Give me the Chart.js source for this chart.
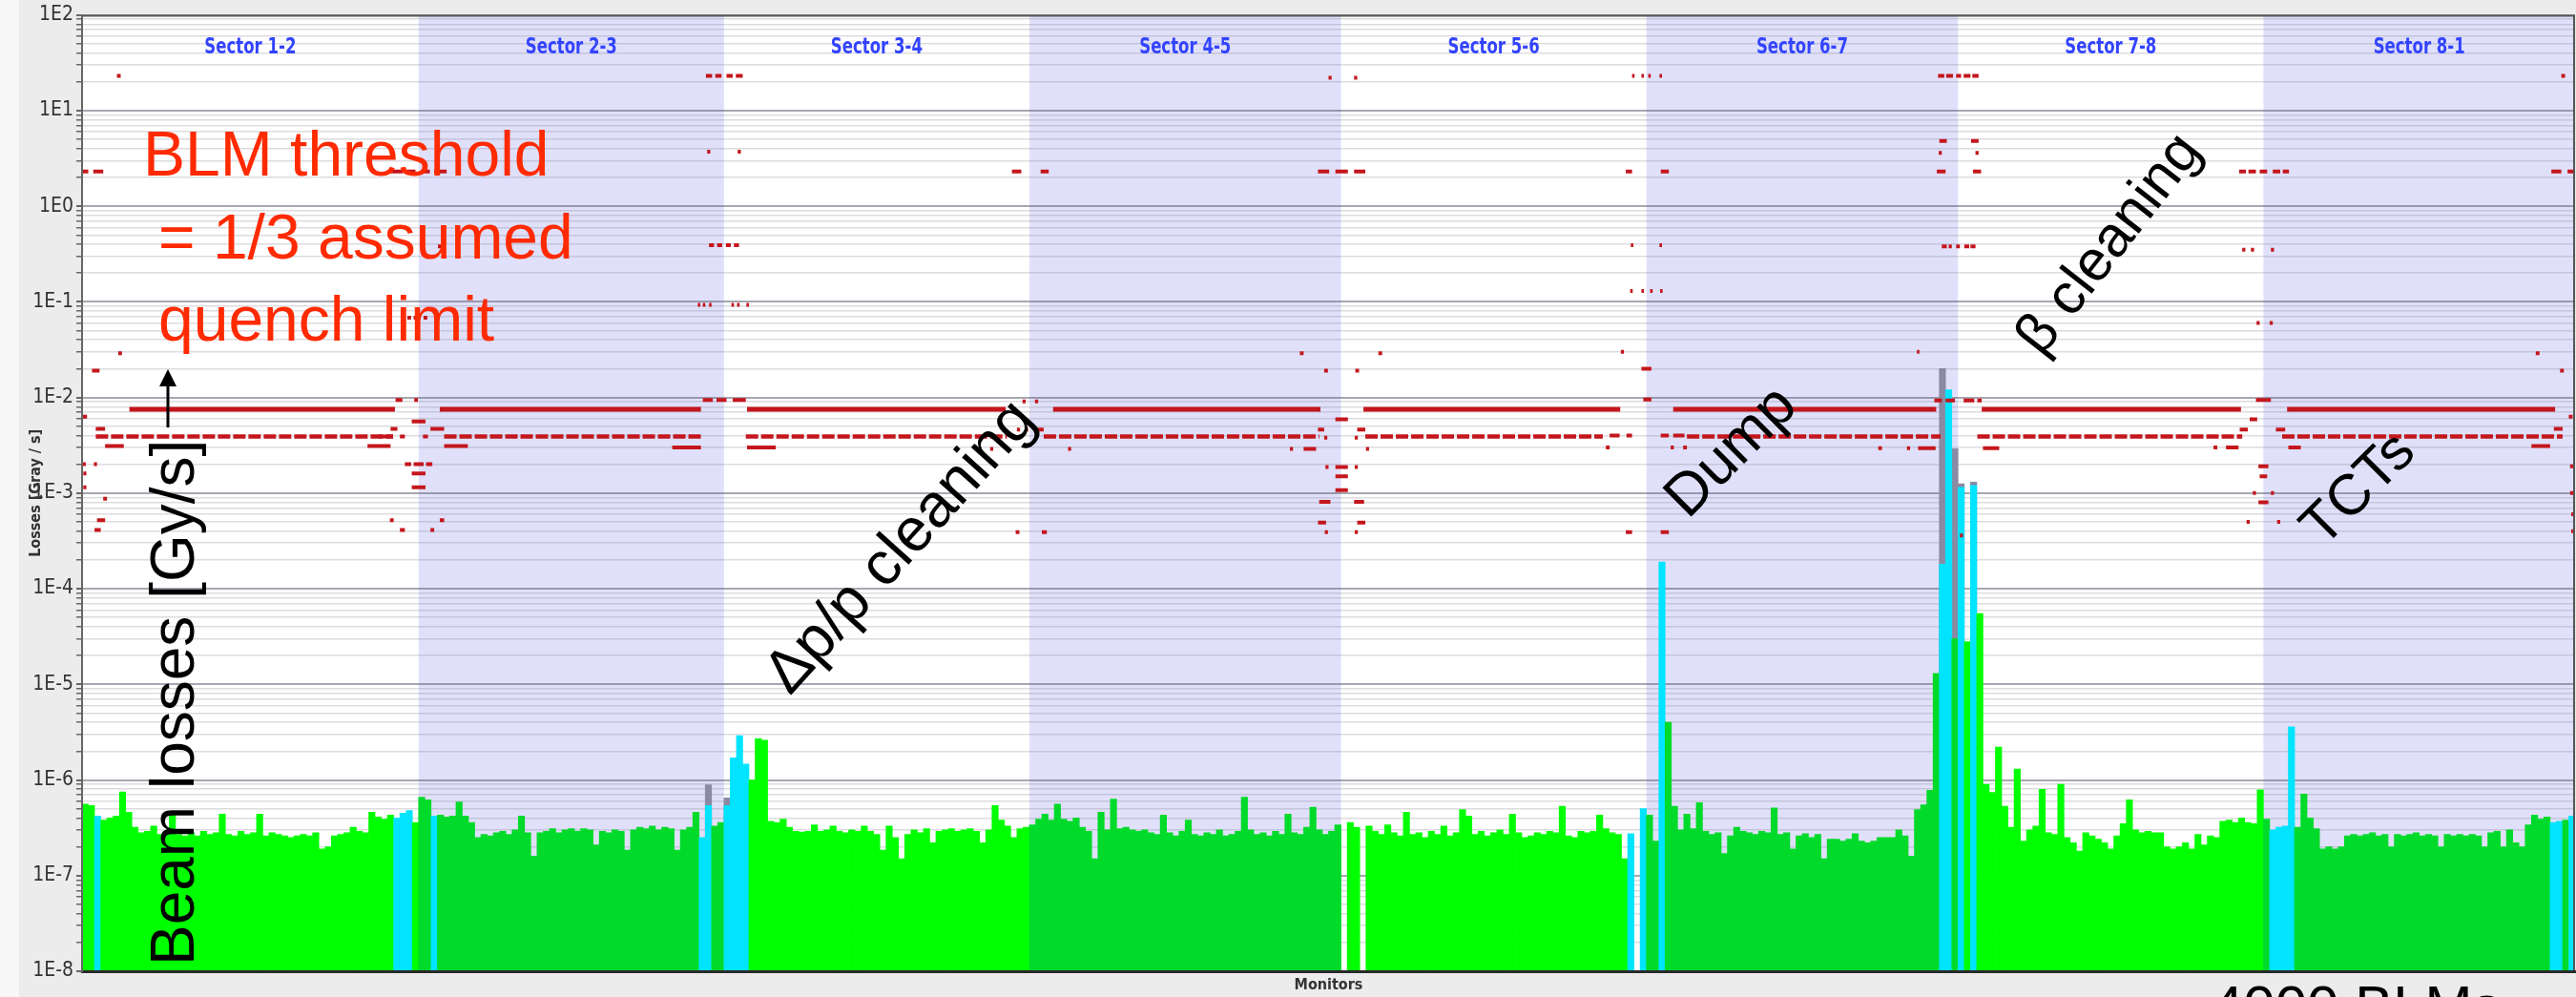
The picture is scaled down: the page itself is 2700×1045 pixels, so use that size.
<!DOCTYPE html>
<html lang="en">
<head>
<meta charset="utf-8">
<title>LHC beam loss map</title>
<script src="https://cdn.jsdelivr.net/npm/chart.js@4.4.1/dist/chart.umd.min.js"></script>
<style>
  html, body { margin: 0; padding: 0; background: #ececec; overflow: hidden; }
  #lossmap { display: block; }
</style>
</head>
<body>
<canvas id="lossmap" width="2700" height="1045"></canvas>
<script>
// ---- Ring layout -------------------------------------------------------
const sectorNames = ['Sector 1-2', 'Sector 2-3', 'Sector 3-4', 'Sector 4-5',
                     'Sector 5-6', 'Sector 6-7', 'Sector 7-8', 'Sector 8-1'];
// monitor index of IP1 ... IP8 and back to IP1
const sectorEdges = [0, 540, 1030, 1520, 2020, 2510, 3010, 3500, 4000];
const MONITORS_PER_BAR = 10;
const LOSS_UNIT = 1e-7;            // loss arrays are given in 1E-7 Gy/s

// y-axis decade labels
const decadeLabels = ['1E2', '1E1', '1E0', '1E-1', '1E-2', '1E-3', '1E-4', '1E-5', '1E-6', '1E-7', '1E-8'];

// ---- Measured losses per bar (10 monitors each), 1E-7 Gy/s ------------
const loss12 = [5.6, 5.4, 4.2, 3.8, 4.0, 4.2, 7.5, 4.6, 3.2, 2.8,
                2.9, 3.3, 2.7, 2.9, 4.5, 2.7, 2.6, 2.8, 2.6, 2.9,
                2.7, 2.8, 4.4, 2.7, 2.6, 2.9, 2.7, 2.8, 4.4, 2.6,
                2.8, 2.7, 2.6, 2.5, 2.6, 2.7, 2.6, 2.8, 1.9, 2.0,
                2.6, 2.7, 2.8, 3.2, 2.9, 2.8, 4.6, 4.1, 3.9, 4.3,
                4.0, 4.5, 4.8, 3.6];
const loss23 = [6.6, 6.2, 4.2, 4.3, 4.1, 4.2, 5.9, 4.2, 3.6, 2.5,
                2.7, 2.6, 2.8, 2.9, 2.7, 3.0, 4.2, 2.8, 1.6, 2.8,
                2.9, 3.1, 2.8, 3.0, 3.1, 2.9, 3.1, 3.0, 2.1, 2.9,
                2.8, 3.0, 2.9, 1.85, 3.0, 3.2, 3.1, 3.3, 3.0, 3.2,
                3.1, 1.85, 3.0, 3.2, 4.6, 2.5, 5.4, 3.3, 3.6];
const loss34 = [5.4, 17, 29, 14.7, 10, 27, 26, 3.7, 3.6, 3.9,
                3.2, 2.9, 2.85, 2.9, 3.4, 2.9, 3.0, 3.3, 2.9, 2.8,
                3.0, 2.9, 3.3, 2.9, 2.7, 1.85, 3.3, 2.5, 1.5, 2.7,
                3.0, 2.8, 3.1, 2.2, 2.9, 3.0, 3.1, 2.9, 3.0, 3.1,
                2.9, 2.2, 3.0, 5.4, 3.8, 3.3, 2.5, 3.1, 3.2];
const loss45 = [3.4, 3.9, 4.4, 3.8, 5.6, 3.9, 3.7, 4.0, 3.2, 2.9,
                1.5, 4.6, 3.0, 6.3, 3.1, 3.2, 3.0, 2.9, 3.0, 2.8,
                2.7, 4.3, 2.8, 2.6, 2.9, 3.8, 2.7, 2.6, 2.8, 2.7,
                3.0, 2.6, 2.7, 2.9, 6.6, 3.0, 2.7, 2.8, 2.6, 2.9,
                2.7, 4.4, 2.8, 2.7, 3.2, 5.2, 3.0, 2.7, 2.9, 3.4];
const loss56 = [null, 3.6, 3.2, null, 3.3, 2.9, 2.7, 3.4, 2.8, 2.6,
                4.6, 2.7, 2.8, 2.5, 2.9, 2.7, 3.3, 2.6, 2.8, 4.9,
                4.2, 2.7, 2.9, 2.6, 2.8, 3.0, 2.7, 4.4, 2.8, 2.5,
                2.6, 2.8, 2.7, 2.9, 2.8, 5.3, 2.6, 2.5, 2.9, 2.8,
                2.9, 4.3, 3.1, 2.8, 2.7, 1.5, 2.75, null, 5.0];
const loss67 = [4.3, 2.3, 1900, 40, 5.3, 3.0, 4.4, 3.1, 5.8, 2.9,
                2.7, 2.8, 1.7, 2.6, 3.2, 2.9, 2.8, 2.7, 2.9, 2.8,
                5.1, 2.7, 2.8, 1.9, 2.6, 2.75, 2.5, 2.7, 1.5, 2.4,
                2.4, 2.3, 2.4, 2.75, 2.3, 2.2, 2.3, 2.5, 2.5, 2.5,
                3.0, 2.6, 1.6, 4.9, 5.5, 7.8, 130, 1800, 120000, 300];
const loss78 = [11500, 280, 12000, 550, 9.0, 7.4, 22, 5.3, 3.2, 13,
                2.3, 3.0, 3.3, 8.0, 2.8, 2.7, 9.0, 2.5, 2.2, 1.8,
                2.8, 2.6, 2.4, 2.2, 1.9, 2.6, 3.5, 6.2, 3.0, 2.8,
                2.9, 2.8, 2.8, 2.0, 1.9, 2.0, 2.2, 1.9, 2.7, 2.1,
                2.6, 2.5, 3.7, 3.8, 3.6, 4.0, 3.6, 3.5, 7.9];
const loss81 = [3.9, 3.0, 3.2, 3.3, 36, 3.2, 7.1, 4.0, 3.1, 1.9,
                2.0, 1.9, 2.0, 2.6, 2.7, 2.6, 2.7, 2.8, 2.6, 2.7,
                2.0, 2.7, 2.6, 2.7, 2.8, 2.6, 2.7, 2.6, 2.0, 2.7,
                2.6, 2.7, 2.6, 2.7, 2.6, 2.0, 2.8, 2.9, 2.0, 3.0,
                2.2, 2.0, 3.4, 4.3, 3.9, 4.1, 3.6, 3.7, 3.8, 4.2];

// bars coming from collimation-area / IR monitors (drawn cyan)
const cyanBars = [2, 50, 51, 52, 56, 99, 100, 103, 104, 105, 106, 248, 250, 253,
                  298, 299, 301, 303, 351, 352, 353, 354, 396, 397, 399];
// second reading behind the main bars: [bar index, loss in 1E-7 Gy/s]
const otherBeamLoss = [[100, 8.9], [103, 6.5], [298, 200000], [300, 29000], [301, 12500], [303, 13000]];

// ---- BLM thresholds -----------------------------------------------------
// arc thresholds: [first monitor, last monitor, Gy/s]
const arcThreshold = [[76, 502, 7.5e-3], [574, 993, 7.5e-3], [1067, 1482, 7.5e-3], [1558, 1987, 7.5e-3],
                      [2056, 2468, 7.5e-3], [2553, 2975, 7.5e-3], [3048, 3464, 7.5e-3], [3538, 3968, 7.5e-3]];
const arcThresholdQuad = [[22, 499, 3.9e-3], [581, 993, 3.9e-3], [1065, 1484, 3.9e-3], [1543, 1985, 3.9e-3],
                          [2059, 2440, 3.9e-3], [2575, 2982, 3.9e-3], [3041, 3466, 3.9e-3], [3530, 3980, 3.9e-3]];
// insertion thresholds: [offset from IP, offset end, Gy/s]
const ipPositions = [0, 540, 1030, 1520, 2020, 2510, 3010, 3500];
const ip1Thresholds = [[56, 62, 23], [-22, -16, 23], [0, 10, 2.3], [18, 34, 2.3], [-38, -22, 2.3], [-12, 0, 2.3],
  [58, 64, 0.029], [-63, -57, 0.029], [16, 28, 0.019], [-24, -18, 0.019], [0, 8, 6.3e-3], [-10, -4, 6.3e-3],
  [22, 37, 4.7e-3], [-34, -20, 4.7e-3], [37, 67, 3.1e-3], [-70, -40, 3.1e-3], [1, 6, 2.0e-3], [19, 24, 2.0e-3],
  [-8, -2, 1.9e-3], [2, 7, 1.6e-3], [2, 7, 1.15e-3], [-8, -2, 1.0e-3], [34, 40, 8.7e-4], [24, 37, 5.2e-4],
  [-6, 0, 6.0e-4], [20, 30, 4.1e-4], [-6, 0, 4.0e-4]];
const ip2Thresholds = [[-45, -25, 2.3], [-18, -5, 2.3], [5, 18, 2.3], [25, 45, 2.3], [-18, -12, 0.38], [31, 37, 0.38],
  [-18, -12, 0.068], [-8, -2, 0.068], [8, 14, 0.068], [-37, -26, 9.4e-3], [-7, -1, 9.4e-3], [-11, 11, 5.6e-3],
  [-45, -34, 4.7e-3], [19, 41, 4.7e-3], [-64, -41, 3.9e-3], [-30, -22, 3.9e-3], [7, 15, 3.9e-3],
  [-82, -45, 3.1e-3], [41, 79, 3.1e-3], [-22, -12, 2.0e-3], [-8, 8, 2.0e-3], [12, 22, 2.0e-3],
  [-11, 11, 1.6e-3], [-11, 11, 1.15e-3], [-46, -40, 5.2e-4], [34, 41, 5.2e-4], [-30, -22, 4.1e-4], [19, 25, 4.1e-4]];
const ip3Thresholds = [[-29, -19, 23], [-14, -4, 23], [4, 14, 23], [19, 30, 23], [-27, -22, 3.7], [22, 27, 3.7],
  [-24, -16, 0.39], [-11, -3, 0.39], [3, 11, 0.39], [16, 24, 0.39],
  [-42, -38, 0.093], [-34, -30, 0.093], [-24, -20, 0.093], [12, 16, 0.093], [21, 25, 0.093], [36, 40, 0.093],
  [-34, -18, 9.4e-3], [-12, 4, 9.4e-3], [14, 35, 9.4e-3], [-83, -37, 3.0e-3], [37, 83, 3.0e-3]];
const ip4Thresholds = [[-28, -13, 2.3], [18, 31, 2.3], [-11, -6, 9.1e-3], [9, 14, 9.1e-3],
  [-20, -15, 4.6e-3], [-7, -2, 4.6e-3], [8, 23, 4.6e-3], [-63, -58, 2.9e-3], [62, 67, 2.9e-3],
  [-22, -16, 3.9e-4], [20, 28, 3.9e-4]];
const ip5Thresholds = [[-20, -15, 22], [21, 26, 22], [-37, -19, 2.3], [-9, 11, 2.3], [21, 39, 2.3],
  [-66, -60, 0.029], [60, 66, 0.029], [-27, -21, 0.019], [23, 29, 0.019], [-9, 11, 5.9e-3],
  [-37, -27, 4.6e-3], [26, 39, 4.6e-3], [-27, -22, 3.8e-3], [22, 27, 3.8e-3],
  [-82, -77, 2.9e-3], [-60, -40, 2.9e-3], [40, 45, 2.9e-3], [-25, -20, 1.87e-3], [-9, 11, 1.87e-3], [22, 27, 1.87e-3],
  [-9, 11, 1.5e-3], [-9, 11, 1.07e-3], [-35, -17, 8.1e-4], [21, 37, 8.1e-4], [-37, -24, 4.9e-4], [26, 39, 4.9e-4],
  [-26, -21, 3.9e-4], [22, 27, 3.9e-4]];
const ip6Thresholds = [[-23, -19, 23], [-8, -4, 23], [3, 7, 23], [21, 25, 23], [-33, -23, 2.3], [23, 36, 2.3],
  [-25, -21, 0.39], [21, 25, 0.39], [-26, -22, 0.13], [-8, -4, 0.13], [6, 10, 0.13], [22, 26, 0.13],
  [-41, -36, 0.030], [-8, 8, 0.020], [-5, 8, 9.5e-3], [-59, -43, 4.0e-3], [-32, -23, 4.0e-3], [23, 36, 4.0e-3],
  [43, 61, 4.0e-3], [-65, -59, 3.0e-3], [39, 44, 3.0e-3], [59, 65, 3.0e-3], [-33, -23, 3.9e-4], [23, 36, 3.9e-4]];
const ip7Thresholds = [[-32, -22, 23], [-19, -8, 23], [-3, 5, 23], [9, 20, 23], [23, 33, 23],
  [-30, -18, 4.8], [21, 33, 4.8], [-31, -26, 3.6], [28, 33, 3.6], [-34, -20, 2.3], [24, 37, 2.3],
  [-26, -18, 0.38], [-15, -10, 0.38], [-3, 3, 0.38], [10, 18, 0.38], [20, 28, 0.38], [-66, -62, 0.030],
  [-38, -26, 9.3e-3], [-20, -5, 9.3e-3], [9, 26, 9.3e-3], [31, 38, 9.3e-3],
  [-128, -122, 2.95e-3], [-82, -77, 2.95e-3], [-64, -36, 2.95e-3], [40, 66, 2.95e-3], [3, 8, 3.6e-4]];
const ip8Thresholds = [[-39, -28, 2.3], [-24, -12, 2.3], [-6, 6, 2.3], [15, 27, 2.3], [31, 41, 2.3],
  [-34, -29, 0.35], [-20, -15, 0.35], [12, 17, 0.35], [-11, -6, 0.06], [10, 15, 0.06],
  [-12, 12, 9.4e-3], [-22, -10, 5.9e-3], [-38, -25, 4.6e-3], [20, 35, 4.6e-3],
  [-80, -74, 3.0e-3], [-60, -40, 3.0e-3], [40, 60, 3.0e-3], [-8, 8, 1.9e-3], [-6, 6, 1.5e-3],
  [-17, -12, 1.0e-3], [12, 17, 1.0e-3], [-8, 8, 8e-4], [-27, -22, 5e-4], [22, 27, 5e-4]];

// ---- Styling -----------------------------------------------------------
const COLORS = {
  page: '#ececec', plot: '#ffffff', shade: '#e0e0fa',
  green: '#00ff00', greenShaded: '#00da2a', cyan: '#00e4ff', otherBeam: '#8a8aa3',
  threshold: '#c4161c', sector: '#3344ff', note: '#ff2a00', ink: '#000000', axis: '#333333'
};
const NARROW = '"DejaVu Sans Condensed", "Liberation Sans Narrow", "DejaVu Sans", sans-serif';
const SANS = '"Liberation Sans", Arial, Helvetica, sans-serif';

// ---- Build datasets from the arrays -----------------------------------
const RING = sectorEdges[sectorEdges.length - 1];
const lossValues = [loss12, loss23, loss34, loss45, loss56, loss67, loss78, loss81].flat();
const cyanSet = new Set(cyanBars);
const barCenter = i => i * MONITORS_PER_BAR + MONITORS_PER_BAR / 2;

function sectorIndexOf(monitor) {
  for (let k = 0; k < sectorNames.length; k++) {
    if (monitor < sectorEdges[k + 1]) return k;
  }
  return sectorNames.length - 1;
}

const lossPoints = [];
const lossColors = [];
lossValues.forEach((v, i) => {
  if (v === null) return;
  const x = barCenter(i);
  lossPoints.push({ x, y: v * LOSS_UNIT });
  lossColors.push(cyanSet.has(i) ? COLORS.cyan
                  : (sectorIndexOf(x) % 2 ? COLORS.greenShaded : COLORS.green));
});
const otherBeamPoints = otherBeamLoss.map(([i, v]) => ({ x: barCenter(i), y: v * LOSS_UNIT }));

function thresholdPoints(list, origin) {
  const pts = [];
  list.forEach(([a, b, v]) => {
    let x0 = origin + a, x1 = origin + b;
    if (x0 < 0) { x0 += RING; x1 += RING; }
    pts.push({ x: x0, y: v }, { x: x1, y: v }, { x: x1, y: null });
  });
  return pts;
}
const ipThresholdPoints = [ip1Thresholds, ip2Thresholds, ip3Thresholds, ip4Thresholds,
                           ip5Thresholds, ip6Thresholds, ip7Thresholds, ip8Thresholds]
  .flatMap((list, k) => thresholdPoints(list, ipPositions[k]));

const decadeOf = new Map(decadeLabels.map(l => [Math.round(Math.log10(Number(l))), l]));
const yTicks = [];
decadeLabels.slice().reverse().forEach(label => {
  const base = Number(label);
  yTicks.push({ value: base, major: true });
  if (label !== decadeLabels[0]) {
    for (let k = 2; k <= 9; k++) yTicks.push({ value: k * base, major: false });
  }
});

// ---- Plugins -----------------------------------------------------------
const sectorBackground = {
  id: 'sectorBackground',
  beforeDraw(chart) {
    const { ctx, chartArea: a, scales: { x } } = chart;
    ctx.save();
    ctx.fillStyle = COLORS.page;
    ctx.fillRect(0, 0, chart.width, chart.height);
    ctx.fillStyle = '#f7f7f7';
    ctx.fillRect(0, 0, 20, chart.height);
    ctx.fillStyle = COLORS.plot;
    ctx.fillRect(a.left, a.top, a.right - a.left, a.bottom - a.top);
    ctx.fillStyle = COLORS.shade;
    for (let k = 1; k < sectorNames.length; k += 2) {
      const x0 = x.getPixelForValue(sectorEdges[k]);
      const x1 = x.getPixelForValue(sectorEdges[k + 1]);
      ctx.fillRect(x0, a.top, x1 - x0, a.bottom - a.top);
    }
    ctx.restore();
  },
  afterDatasetsDraw(chart) {
    const { ctx, chartArea: a, scales: { x } } = chart;
    ctx.save();
    ctx.fillStyle = COLORS.sector;
    ctx.font = `bold 23px ${NARROW}`;
    ctx.textAlign = 'center';
    ctx.textBaseline = 'middle';
    sectorNames.forEach((name, k) => {
      const cx = (x.getPixelForValue(sectorEdges[k]) + x.getPixelForValue(sectorEdges[k + 1])) / 2;
      ctx.save();
      ctx.translate(cx, a.top + 34);
      ctx.scale(0.8, 1);          // tall, narrow lettering
      ctx.fillText(name, 0, 0);
      ctx.restore();
    });
    ctx.strokeStyle = '#555555';
    ctx.lineWidth = 2;
    ctx.beginPath();
    ctx.moveTo(a.left, a.top + 1);
    ctx.lineTo(a.right, a.top + 1);
    ctx.moveTo(a.right - 1, a.top);
    ctx.lineTo(a.right - 1, a.bottom);
    ctx.stroke();
    ctx.restore();
  }
};

function drawNote(ctx, text, x, y, angleDeg, size, color) {
  ctx.save();
  ctx.translate(x, y);
  ctx.rotate(angleDeg * Math.PI / 180);
  ctx.font = `${size}px ${SANS}`;
  ctx.fillStyle = color;
  ctx.textAlign = 'left';
  ctx.textBaseline = 'alphabetic';
  ctx.fillText(text, 0, 0);
  ctx.restore();
}

// upward arrow following the rotated axis note
function drawUpArrow(ctx, x, yTail, yTip) {
  ctx.save();
  ctx.strokeStyle = COLORS.ink;
  ctx.fillStyle = COLORS.ink;
  ctx.lineWidth = 3;
  ctx.beginPath();
  ctx.moveTo(x, yTail);
  ctx.lineTo(x, yTip + 14);
  ctx.stroke();
  ctx.beginPath();
  ctx.moveTo(x, yTip);
  ctx.lineTo(x - 9, yTip + 18);
  ctx.lineTo(x + 9, yTip + 18);
  ctx.closePath();
  ctx.fill();
  ctx.restore();
}

const notes = {
  id: 'notes',
  afterDraw(chart) {
    const ctx = chart.ctx;
    drawNote(ctx, 'BLM threshold', 150, 184, 0, 66, COLORS.note);
    drawNote(ctx, '= 1/3 assumed', 166, 271, 0, 66, COLORS.note);
    drawNote(ctx, 'quench limit', 166, 357, 0, 66, COLORS.note);
    drawNote(ctx, 'Beam losses [Gy/s]', 203, 1012, -90, 64, COLORS.ink);
    drawUpArrow(ctx, 176, 448, 387);
    drawNote(ctx, '\u0394p/p cleaning', 828, 730, -48, 64, COLORS.ink);
    drawNote(ctx, 'Dump', 1769, 545, -45, 62, COLORS.ink);
    drawNote(ctx, '\u03b2 cleaning', 2140, 375, -52, 60, COLORS.ink);
    drawNote(ctx, 'TCTs', 2435, 575, -45, 60, COLORS.ink);
    drawNote(ctx, '4000 BLMs \u2192', 2318, 1075, 0, 60, COLORS.ink);
  }
};

// ---- Chart -------------------------------------------------------------
new Chart(document.getElementById('lossmap'), {
  type: 'bar',
  data: {
    datasets: [
      { type: 'line', label: 'Arc threshold', data: thresholdPoints(arcThreshold, 0),
        borderColor: COLORS.threshold, borderWidth: 5, borderCapStyle: 'butt',
        pointRadius: 0, spanGaps: false, tension: 0, fill: false, order: 0 },
      { type: 'line', label: 'Arc quadrupole threshold', data: thresholdPoints(arcThresholdQuad, 0),
        borderColor: COLORS.threshold, borderWidth: 4.5, borderCapStyle: 'butt', borderDash: [13, 3],
        pointRadius: 0, spanGaps: false, tension: 0, fill: false, order: 0 },
      { type: 'line', label: 'Insertion thresholds', data: ipThresholdPoints,
        borderColor: COLORS.threshold, borderWidth: 4, borderCapStyle: 'butt',
        pointRadius: 0, spanGaps: false, tension: 0, fill: false, order: 0 },
      { label: 'Losses', data: lossPoints, backgroundColor: lossColors, borderWidth: 0,
        grouped: false, barPercentage: 1, categoryPercentage: 1, order: 1 },
      { label: 'Other beam', data: otherBeamPoints, backgroundColor: COLORS.otherBeam, borderWidth: 0,
        grouped: false, barPercentage: 1, categoryPercentage: 1, order: 2 }
    ]
  },
  options: {
    responsive: false,
    devicePixelRatio: 1,
    animation: false,
    events: [],
    layout: { padding: { top: 12, right: 1, left: 0, bottom: 0 } },
    plugins: { legend: { display: false }, tooltip: { enabled: false } },
    scales: {
      x: {
        type: 'linear', min: 0, max: RING, offset: false,
        grid: { display: false },
        ticks: { display: false },
        border: { display: true, color: '#2a2a2a', width: 3, z: 2 },
        title: { display: true, text: 'Monitors', color: COLORS.axis,
                 font: { family: NARROW, size: 16, weight: 'bold' }, padding: { top: 0, bottom: 3 } },
        afterFit: s => { s.height = 27; }
      },
      y: {
        type: 'logarithmic', min: 1e-8, max: 1e2,
        afterBuildTicks: s => { s.ticks = yTicks.map(t => ({ value: t.value, major: t.major })); },
        ticks: {
          autoSkip: false, color: COLORS.axis, padding: 3,
          font: { family: NARROW, size: 21 },
          callback: (value, index, ticks) =>
            ticks[index].major ? decadeOf.get(Math.round(Math.log10(value))) : ''
        },
        grid: {
          color: c => (c.tick && c.tick.major) ? 'rgba(80,80,100,0.5)' : 'rgba(110,110,120,0.24)',
          lineWidth: c => (c.tick && c.tick.major) ? 2 : 1.5,
          tickLength: 6, tickColor: '#666666'
        },
        border: { display: true, color: '#666666', width: 2, z: 2 },
        title: { display: true, text: 'Losses [Gray / s]', color: COLORS.axis,
                 font: { family: NARROW, size: 16, weight: 'bold' }, padding: { top: 28, bottom: 0 } },
        afterFit: s => { s.width = 86; }
      }
    }
  },
  plugins: [sectorBackground, notes]
});
</script>
</body>
</html>
